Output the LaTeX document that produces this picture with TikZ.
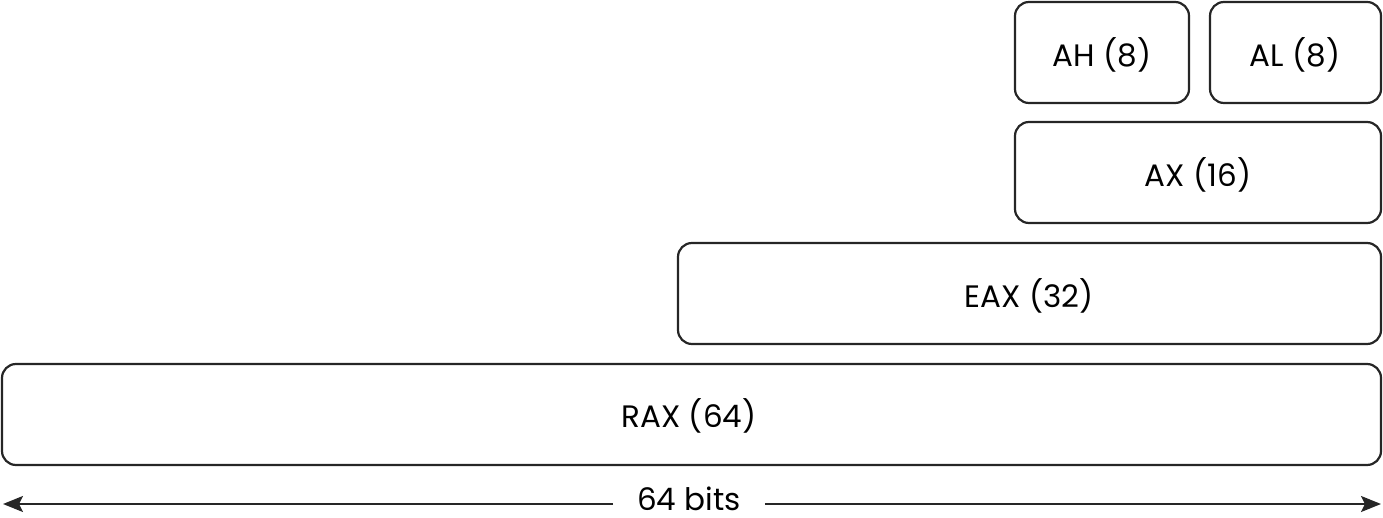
\documentclass[tikz,border=0pt]{standalone}
\usepackage{fontspec}
\setmainfont{Poppins}
\usetikzlibrary{arrows.meta}
\begin{document}
\begin{tikzpicture}[x=1pt,y=-1pt,
  reg/.style={draw=black!85,line width=2.2pt,rounded corners=14pt},
  lbl/.style={font=\fontsize{31}{36}\selectfont},
  dim/.style={line width=2.2pt,draw=black!85,-{Stealth[length=20pt,width=16pt,inset=4pt]}}]
\useasboundingbox (0,0) rectangle (1383,518);
\draw[reg] (1015,2) rectangle (1189,103);
\node[lbl] (ah) at (1102,55) {AH (8)};
\draw[reg] (1210,2) rectangle (1381,103);
\node[lbl] (al) at (1295,55) {AL (8)};
\draw[reg] (1015,122) rectangle (1381,223);
\node[lbl] (ax) at (1198,175) {AX (16)};
\draw[reg] (678,243) rectangle (1381,344);
\node[lbl] (eax) at (1029,296) {EAX (32)};
\draw[reg] (2,364) rectangle (1381,465);
\node[lbl] (rax) at (689,416) {RAX (64)};
\node[lbl,inner xsep=24pt,inner ysep=0pt] (bits) at (689,499) {64 bits};
\coordinate (L) at (3,504);
\coordinate (R) at (1381,504);
\draw[dim] (bits.west |- L) -- (L);
\draw[dim] (bits.east |- R) -- (R);
\end{tikzpicture}
\end{document}
